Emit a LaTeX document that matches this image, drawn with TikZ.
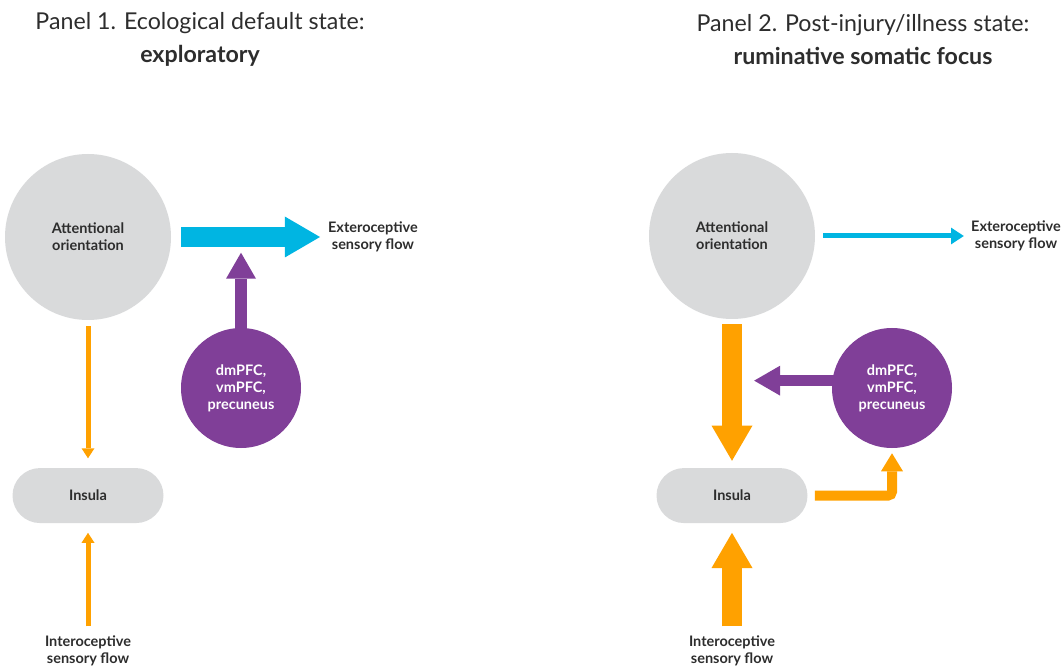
\documentclass[tikz,border=0pt]{standalone}
\usepackage{fontspec}
\setmainfont{Lato}
\usetikzlibrary{arrows.meta,positioning}

\definecolor{brain}{RGB}{217,218,219}
\definecolor{extero}{RGB}{0,181,226}
\definecolor{cortex}{RGB}{128,63,152}
\definecolor{intero}{RGB}{255,161,0}
\definecolor{ink}{RGB}{45,45,45}

\begin{document}
\begin{tikzpicture}[auto, text=ink, font=\fontsize{10.3}{12}\selectfont\bfseries]
	\tikzstyle{region} = [circle, fill=brain, inner sep=0pt, minimum size=4.15cm, align=center]
	\tikzstyle{pfc} = [circle, fill=cortex, text=white, inner sep=0pt, minimum size=3cm, align=center]
	\tikzstyle{insula} = [rectangle, fill=brain, rounded corners=0.6875cm, minimum width=3.775cm, minimum height=1.375cm]
	\tikzstyle{flowlabel} = [align=center]
	\tikzstyle{paneltitle} = [align=center, font=\fontsize{16.5}{23.5}\selectfont]
	\tikzstyle{thinflow} = [line width=0.125cm, -{Triangle[width=0.325cm, length=0.25cm, line width=0pt]}]
	\tikzstyle{thickflow} = [line width=0.5cm, -{Triangle[width=1.025cm, length=0.88cm, line width=0pt]}]
	\tikzstyle{pfcflow} = [line width=0.29cm, draw=cortex, -{Triangle[width=0.75cm, length=0.65cm, line width=0pt]}]
	
	\useasboundingbox (0,0) rectangle (26.6,16.7);
	
	\node [paneltitle] (title1) at (5.0,15.72) {Panel 1. Ecological default state:\\ \textbf{exploratory}};
	
	\node [paneltitle] (title2) at (21.575,15.72) {Panel 2. Post-injury/illness state:\\ \textbf{ruminative somatic focus}};
	
	\node [region] (att1) at (2.2,10.775) {Attentional\\ orientation};
	
	\node [insula, below = 3.6875cm of att1] (insula1) {Insula};
	
	\node [pfc] (pfc1) at (6.025,7.0) {dmPFC,\\ vmPFC,\\ precuneus};
	
	\node [flowlabel, anchor=west] (ext1) at (8.08,10.775) {Exteroceptive\\ sensory flow};
	
	\node [flowlabel] (int1) at (2.2,0.44) {Interoceptive\\ sensory flow};
	
	\draw [thickflow, draw=extero] ([xshift=0.25cm]att1.east) -- ([xshift=-0.08cm]ext1.west);
	
	\draw [pfcflow] ([yshift=-0.05cm]pfc1.north) -- ++(0,1.925);
	
	\draw [thinflow, draw=intero] ([yshift=-0.15cm]att1.south) -- ([yshift=0.2375cm]insula1.north);
	
	\draw [thinflow, draw=intero] ([yshift=0.1cm]int1.north) -- ([yshift=-0.2375cm]insula1.south);
	
	\node [region] (att2) at (18.3,10.8) {Attentional\\ orientation};
	
	\node [insula, below = 3.7125cm of att2] (insula2) {Insula};
	
	\node [pfc] (pfc2) at (22.3,7.0) {dmPFC,\\ vmPFC,\\ precuneus};
	
	\node [flowlabel] (ext2) at (25.4,10.8) {Exteroceptive\\ sensory flow};
	
	\node [flowlabel] (int2) at (18.3,0.44) {Interoceptive\\ sensory flow};
	
	\draw [line width=0.125cm, draw=extero, -{Triangle[width=0.42cm, length=0.32cm, line width=0pt]}] ([xshift=0.2cm]att2.east) -- ([xshift=-0.06cm]ext2.west);
	
	\draw [thickflow, draw=intero] ([yshift=-0.125cm]att2.south) -- ([yshift=0.175cm]insula2.north);
	
	\draw [thickflow, draw=intero] ([yshift=0.1cm]int2.north) -- ([yshift=-0.2375cm]insula2.south);
	
	\draw [pfcflow, line width=0.27cm] ([xshift=0.05cm]pfc2.173) -- ++(-2.0,0);
	
	\draw [line width=0.25cm, draw=intero, rounded corners=0.1cm, -{Triangle[width=0.55cm, length=0.45cm, line width=0pt]}] ([xshift=0.175cm]insula2.east) -| ([yshift=-0.125cm]pfc2.south);
	
	\end{tikzpicture}
\end{document}
